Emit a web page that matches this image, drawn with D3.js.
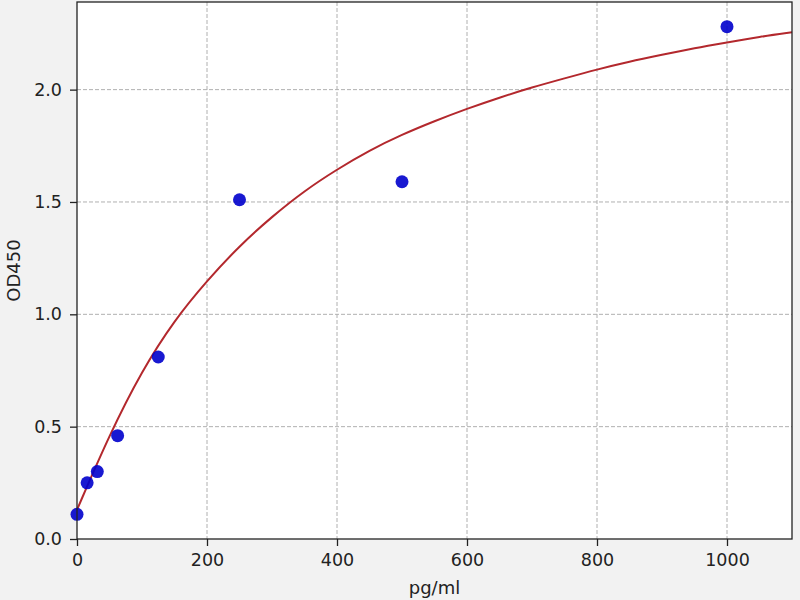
<!DOCTYPE html>
<html>
<head>
<meta charset="utf-8">
<script src="https://cdn.jsdelivr.net/npm/d3@7"></script>
<style>
  body { margin: 0; background: #f2f2f2; }
  svg { display: block; font-family: "DejaVu Sans", sans-serif; }
</style>
</head>
<body>
<svg id="chart" width="800" height="600"></svg>
<script>
// measured standards
var concentrations = [0, 15.6, 31.25, 62.5, 125, 250, 500, 1000];
var odValues = [0.11, 0.25, 0.30, 0.46, 0.81, 1.51, 1.59, 2.28];

// fitted curve, every 50 pg/ml
var curveX = [0, 50, 100, 150, 200, 250, 300, 350, 400, 450, 500, 550,
              600, 650, 700, 750, 800, 850, 900, 950, 1000, 1050, 1100];
var curveY = [0.13, 0.465, 0.75, 0.975, 1.15, 1.305, 1.435, 1.55, 1.645, 1.73, 1.80, 1.86,
              1.915, 1.965, 2.01, 2.05, 2.09, 2.125, 2.155, 2.185, 2.21, 2.235, 2.255];

var xTicks = [0, 200, 400, 600, 800, 1000];
var yTicks = [0.0, 0.5, 1.0, 1.5, 2.0];

var svg = d3.select('#chart');
var margin = {top: 2, left: 77, bottom: 61, right: 8};
var width = 800, height = 600;
var w = width - margin.left - margin.right;
var h = height - margin.top - margin.bottom;

var x = d3.scaleLinear().domain([0, 1100]).range([0, w]);
var y = d3.scaleLinear().domain([0, 2.39]).range([h, 0]);

var g = svg.append("g")
    .attr("transform", "translate(" + [margin.left, margin.top] + ")");

g.append("rect").attr("width", w).attr("height", h).attr("fill", "#fff");

// grid
g.selectAll(".gx").data(xTicks.slice(1)).enter().append("line")
    .attr("x1", d => x(d)).attr("x2", d => x(d))
    .attr("y1", 0).attr("y2", h)
    .attr("stroke", "#b0b0b0").attr("stroke-dasharray", "4,2").attr("stroke-width", 1);
g.selectAll(".gy").data(yTicks.slice(1)).enter().append("line")
    .attr("y1", d => y(d)).attr("y2", d => y(d))
    .attr("x1", 0).attr("x2", w)
    .attr("stroke", "#b0b0b0").attr("stroke-dasharray", "4,2").attr("stroke-width", 1);

// fitted curve
var line = d3.line()
    .x((d, i) => x(curveX[i]))
    .y(d => y(d))
    .curve(d3.curveBasis);
g.append("path").datum(curveY)
    .attr("d", line)
    .attr("fill", "none")
    .attr("stroke", "#b3282d")
    .attr("stroke-width", 2);

// points
g.selectAll(".pt").data(odValues).enter().append("circle")
    .attr("cx", (d, i) => x(concentrations[i]))
    .attr("cy", d => y(d))
    .attr("r", 6.5)
    .attr("fill", "#0000cc")
    .attr("fill-opacity", 0.9);

// axes
var xAxis = d3.axisBottom(x).tickValues(xTicks).tickFormat(d3.format("d")).tickSizeOuter(0).tickSize(7).tickPadding(8);
var yAxis = d3.axisLeft(y).tickValues(yTicks).tickFormat(d3.format(".1f")).tickSizeOuter(0).tickSize(7).tickPadding(8);

var gx = g.append("g").attr("transform", "translate(0," + h + ")").call(xAxis);
var gy = g.append("g").call(yAxis);
[gx, gy].forEach(function(a) {
    a.selectAll("text").attr("font-size", 17.5).attr("fill", "#222").attr("font-family", "DejaVu Sans");
    a.selectAll("line").attr("stroke", "#222").attr("stroke-width", 1.3);
    a.select(".domain").remove();
});

// frame
g.append("rect").attr("width", w).attr("height", h)
    .attr("fill", "none").attr("stroke", "#222").attr("stroke-width", 1.3);

// labels
svg.append("text")
    .attr("x", margin.left + w / 2).attr("y", 594)
    .attr("text-anchor", "middle").attr("font-size", 18).attr("fill", "#222")
    .text("pg/ml");
svg.append("text")
    .attr("transform", "translate(20," + (margin.top + h / 2) + ") rotate(-90)")
    .attr("text-anchor", "middle").attr("font-size", 18).attr("fill", "#222")
    .text("OD450");
</script>
</body>
</html>
